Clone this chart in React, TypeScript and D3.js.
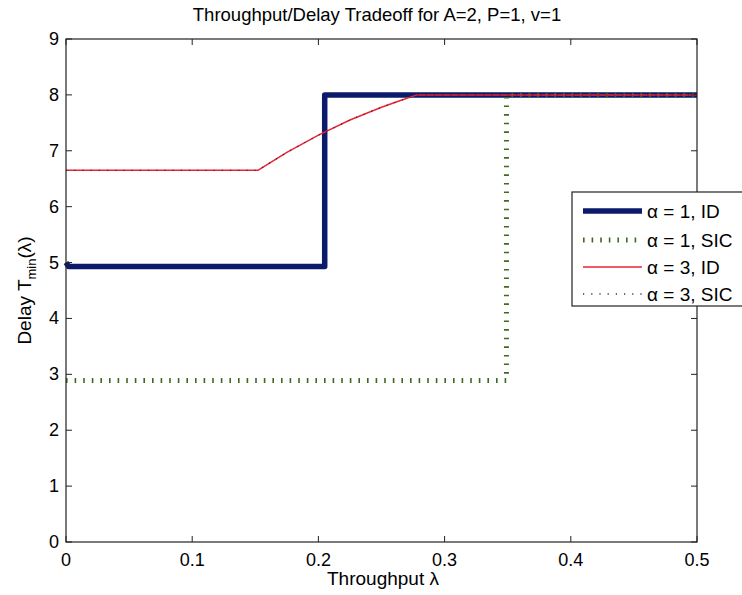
import React, { useEffect, useRef } from 'react';
import * as d3 from 'd3';

// series values: [throughput, delay]
const alpha1ID: [number, number][] = [[0, 5.0], [0.002, 4.93], [0.205, 4.93], [0.205, 8.0], [0.5, 8.0]];
const alpha1SIC: [number, number][] = [[0, 2.89], [0.349, 2.89], [0.349, 8.0], [0.5, 8.0]];
const alpha3ID: [number, number][] = [
  [0, 6.65], [0.152, 6.65], [0.175, 6.97], [0.2, 7.28], [0.225, 7.55],
  [0.25, 7.78], [0.265, 7.9], [0.278, 8.0], [0.5, 8.0],
];
const alpha3SIC: [number, number][] = alpha3ID;

const xTicks = [0, 0.1, 0.2, 0.3, 0.4, 0.5];
const yTicks = [0, 1, 2, 3, 4, 5, 6, 7, 8, 9];
const legendLabels = ['α = 1, ID', 'α = 1, SIC', 'α = 3, ID', 'α = 3, SIC'];

const W = 742;
const H = 595;
const margin = { left: 66, right: 45, top: 39, bottom: 53 };

const font = '"Liberation Sans", Arial, Helvetica, sans-serif';

export default function App() {
  const ref = useRef<SVGSVGElement>(null);

  useEffect(() => {
    const svg = d3.select(ref.current);
    svg.selectAll('*').remove();

    const x = d3.scaleLinear().domain([0, 0.5]).range([margin.left, W - margin.right]);
    const y = d3.scaleLinear().domain([0, 9]).range([H - margin.bottom, margin.top]);

    svg.append('rect').attr('width', W).attr('height', H).attr('fill', '#fff');

    const line = d3.line<[number, number]>()
      .x(d => x(d[0]))
      .y(d => y(d[1]));

    const styles = [
      { data: alpha1ID, color: '#0c1a6b', width: 5.5, dash: null },
      { data: alpha1SIC, color: '#3f6a1e', width: 5, dash: '1.6,7' },
      { data: alpha3ID, color: '#ee2233', width: 1.5, dash: null },
      { data: alpha3SIC, color: '#333', width: 1.3, dash: '1.2,7' },
    ];

    styles.forEach(s => {
      svg.append('path')
        .attr('d', line(s.data))
        .attr('fill', 'none')
        .attr('stroke', s.color)
        .attr('stroke-width', s.width)
        .attr('stroke-linejoin', 'round')
        .attr('stroke-dasharray', s.dash);
    });

    // box
    svg.append('rect')
      .attr('x', x(0)).attr('y', y(9))
      .attr('width', x(0.5) - x(0)).attr('height', y(0) - y(9))
      .attr('fill', 'none').attr('stroke', '#222').attr('stroke-width', 1.2);

    const xAxis = svg.append('g');
    xTicks.forEach(t => {
      xAxis.append('line').attr('x1', x(t)).attr('x2', x(t))
        .attr('y1', y(0)).attr('y2', y(0) - 6).attr('stroke', '#222');
      xAxis.append('line').attr('x1', x(t)).attr('x2', x(t))
        .attr('y1', y(9)).attr('y2', y(9) + 6).attr('stroke', '#222');
      xAxis.append('text').attr('x', x(t)).attr('y', y(0) + 24)
        .attr('text-anchor', 'middle').attr('font-size', 18).attr('font-family', font)
        .text(String(t));
    });

    const yAxis = svg.append('g');
    yTicks.forEach(t => {
      yAxis.append('line').attr('x1', x(0)).attr('x2', x(0) + 6)
        .attr('y1', y(t)).attr('y2', y(t)).attr('stroke', '#222');
      yAxis.append('line').attr('x1', x(0.5)).attr('x2', x(0.5) - 6)
        .attr('y1', y(t)).attr('y2', y(t)).attr('stroke', '#222');
      yAxis.append('text').attr('x', x(0) - 7).attr('y', y(t) + 6)
        .attr('text-anchor', 'end').attr('font-size', 18).attr('font-family', font)
        .text(String(t));
    });

    svg.append('text').attr('x', 377).attr('y', 21)
      .attr('text-anchor', 'middle').attr('font-size', 18.5).attr('font-family', font)
      .text('Throughput/Delay Tradeoff for A=2, P=1, v=1');

    svg.append('text').attr('x', 383).attr('y', 585)
      .attr('text-anchor', 'middle').attr('font-size', 19).attr('font-family', font)
      .text('Throughput λ');

    const yl = svg.append('text')
      .attr('transform', `translate(31, ${(y(0) + y(9)) / 2}) rotate(-90)`)
      .attr('text-anchor', 'middle').attr('font-size', 19).attr('font-family', font);
    yl.append('tspan').text('Delay T');
    yl.append('tspan').attr('font-size', 13).attr('dy', 5).text('min');
    yl.append('tspan').attr('dy', -5).text('(λ)');

    // legend
    const lg = svg.append('g');
    lg.append('rect').attr('x', 572).attr('y', 192).attr('width', 190).attr('height', 114)
      .attr('fill', '#fff').attr('stroke', '#222').attr('stroke-width', 1.2);
    const rowsY = [211, 240, 267, 294];
    styles.forEach((s, i) => {
      lg.append('line').attr('x1', 583).attr('x2', 642)
        .attr('y1', rowsY[i]).attr('y2', rowsY[i])
        .attr('stroke', s.color).attr('stroke-width', s.width)
        .attr('stroke-dasharray', s.dash);
      lg.append('text').attr('x', 647).attr('y', rowsY[i] + 7)
        .attr('font-size', 19).attr('font-family', font)
        .text(legendLabels[i]);
    });
  }, []);

  return (
    <svg
      ref={ref}
      width={W}
      height={H}
      style={{ display: 'block', position: 'absolute', left: 0, top: 0 }}
    />
  );
}
